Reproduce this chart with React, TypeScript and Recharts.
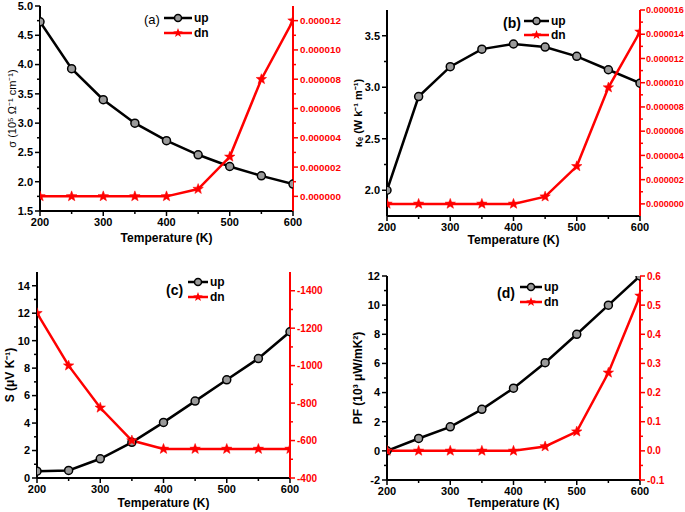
import React from 'react';
import { LineChart, Line, XAxis, YAxis, Legend, Label } from 'recharts';

const temperatures = [200, 250, 300, 350, 400, 450, 500, 550, 600];
const xTickValues = [200, 300, 400, 500, 600];

const sigmaUp = [4.73, 3.93, 3.4, 3.0, 2.7, 2.46, 2.26, 2.1, 1.96];
const sigmaDn = [0, 0, 0, 0, 0, 0.0000005, 0.0000027, 0.000008, 0.000012];
const kappaUp = [2.0, 2.91, 3.2, 3.37, 3.42, 3.39, 3.3, 3.17, 3.04];
const kappaDn = [0, 0, 0, 0, 0, 0.0000006, 0.0000031, 0.0000096, 0.0000142];
const seebeckUp = [0.5, 0.55, 1.4, 2.6, 4.05, 5.6, 7.15, 8.7, 10.65];
const seebeckDn = [-1280, -1000, -775, -600, -555, -555, -555, -555, -555];
const pfUp = [0, 0.85, 1.65, 2.85, 4.3, 6.05, 8.0, 10.0, 12.0];
const pfDn = [0, 0, 0, 0, 0, 0.015, 0.066, 0.268, 0.532];

const sigmaLeftTicks = [1.5, 2.0, 2.5, 3.0, 3.5, 4.0, 4.5, 5.0];
const sigmaRightTicks = [0, 0.000002, 0.000004, 0.000006, 0.000008, 0.00001, 0.000012];
const kappaLeftTicks = [2.0, 2.5, 3.0, 3.5];
const kappaRightTicks = [0, 0.000002, 0.000004, 0.000006, 0.000008, 0.00001, 0.000012, 0.000014, 0.000016];
const seebeckLeftTicks = [0, 2, 4, 6, 8, 10, 12, 14];
const seebeckRightTicks = [-1400, -1200, -1000, -800, -600, -400];
const pfLeftTicks = [-2, 0, 2, 4, 6, 8, 10, 12];
const pfRightTicks = [-0.1, 0, 0.1, 0.2, 0.3, 0.4, 0.5, 0.6];

const FONT = 'Arial, "Liberation Sans", Helvetica, sans-serif';
const RED = '#ff0000';

function withMinors(majors: number[]) {
  const out = [...majors];
  for (let i = 0; i < majors.length - 1; i++) out.push((majors[i] + majors[i + 1]) / 2);
  return out.sort((a, b) => a - b);
}

function starPoints(cx: number, cy: number, R: number, r: number) {
  const pts: string[] = [];
  for (let i = 0; i < 10; i++) {
    const ang = -Math.PI / 2 + (i * Math.PI) / 5;
    const rad = i % 2 === 0 ? R : r;
    pts.push(`${cx + rad * Math.cos(ang)},${cy + rad * Math.sin(ang)}`);
  }
  return pts.join(' ');
}

const CircleDot = (props: any) => {
  const { cx, cy, index } = props;
  if (cx == null || cy == null) return <g key={`c${index}`} />;
  return <circle key={`c${index}`} cx={cx} cy={cy} r={4} fill="#9a9a9a" stroke="#000" strokeWidth={1.5} />;
};

const StarDot = (props: any) => {
  const { cx, cy, index } = props;
  if (cx == null || cy == null) return <g key={`s${index}`} />;
  return <polygon key={`s${index}`} points={starPoints(cx, cy, 5.5, 2.3)} fill={RED} stroke={RED} strokeWidth={0.5} />;
};

const makeTick =
  (side: 'left' | 'right' | 'bottom', majors: number[], fmt: (v: number) => string, color: string, fontSize: number, gap = 7) =>
  (props: any) => {
    const { x, y, payload } = props;
    const v = payload.value as number;
    const isMajor = majors.some((m) => Math.abs(m - v) < 1e-12);
    const len = isMajor ? 5 : 3;
    const textStyle = { fontFamily: FONT, fontWeight: 700, fontSize, fill: color } as any;
    if (side === 'left') {
      return (
        <g>
          <line x1={x} y1={y} x2={x - len} y2={y} stroke={color} strokeWidth={1.5} />
          {isMajor && (
            <text x={x - gap} y={y} dy="0.35em" textAnchor="end" style={textStyle}>
              {fmt(v)}
            </text>
          )}
        </g>
      );
    }
    if (side === 'right') {
      return (
        <g>
          <line x1={x} y1={y} x2={x + len} y2={y} stroke={color} strokeWidth={1.5} />
          {isMajor && (
            <text x={x + gap} y={y} dy="0.35em" textAnchor="start" style={textStyle}>
              {fmt(v)}
            </text>
          )}
        </g>
      );
    }
    return (
      <g>
        <line x1={x} y1={y} x2={x} y2={y + len} stroke={color} strokeWidth={1.5} />
        {isMajor && (
          <text x={x} y={y + 15} textAnchor="middle" style={textStyle}>
            {fmt(v)}
          </text>
        )}
      </g>
    );
  };

type PanelProps = {
  tag: string;
  pos: { left: number; top: number };
  width: number;
  height: number;
  marginTop: number;
  leftWidth: number;
  rightWidth: number;
  xHeight: number;
  up: number[];
  dn: number[];
  leftDomain: [number, number];
  leftTicks: number[];
  leftFmt: (v: number) => string;
  rightDomain: [number, number];
  rightTicks: number[];
  rightFmt: (v: number) => string;
  rightFontSize: number;
  rightGap: number;
  rightReversed?: boolean;
  yTitle: string;
  yTitleBold: boolean;
  yTitleSize: number;
  yTitleX: number;
  xTitleY: number;
  legend: { tagX: number; tagY: number; x1: number; x2: number; upY: number; dnY: number; tagSize: number; tagBold: boolean };
};

function Panel(p: PanelProps) {
  const data = temperatures.map((t, i) => ({ t, up: p.up[i], dn: p.dn[i] }));
  const L = p.legend;
  const mid = (L.x1 + L.x2) / 2;
  const legendContent = () => (
    <svg width={p.width} height={60} style={{ display: 'block', overflow: 'visible' }}>
      <text
        x={L.tagX}
        y={L.tagY}
        dy="0.35em"
        style={{ fontFamily: FONT, fontSize: L.tagSize, fontWeight: L.tagBold ? 700 : 400, fill: '#000' }}
      >
        {p.tag}
      </text>
      <line x1={L.x1} y1={L.upY} x2={L.x2} y2={L.upY} stroke="#000" strokeWidth={2.5} />
      <circle cx={mid} cy={L.upY} r={3.5} fill="#9a9a9a" stroke="#000" strokeWidth={1.5} />
      <text x={L.x2 + 2} y={L.upY} dy="0.35em" style={{ fontFamily: FONT, fontSize: 12, fontWeight: 700, fill: '#000' }}>
        up
      </text>
      <line x1={L.x1} y1={L.dnY} x2={L.x2} y2={L.dnY} stroke={RED} strokeWidth={2.5} />
      <polygon points={starPoints(mid, L.dnY, 5, 2.1)} fill={RED} />
      <text x={L.x2 + 2} y={L.dnY} dy="0.35em" style={{ fontFamily: FONT, fontSize: 12, fontWeight: 700, fill: '#000' }}>
        dn
      </text>
    </svg>
  );

  return (
    <div style={{ position: 'absolute', left: p.pos.left, top: p.pos.top }}>
      <LineChart width={p.width} height={p.height} data={data} margin={{ top: p.marginTop, right: 0, bottom: 0, left: 0 }}>
        <XAxis
          xAxisId="main"
          dataKey="t"
          type="number"
          domain={[200, 600]}
          ticks={withMinors(xTickValues)}
          interval={0}
          height={p.xHeight}
          tickSize={0}
          tickMargin={0}
          tickLine={false}
          axisLine={{ stroke: '#000', strokeWidth: 2 }}
          tick={makeTick('bottom', xTickValues, (v) => String(v), '#000', 11)}
          allowDataOverflow
        >
          <Label
            content={(lp: any) => {
              const vb = lp.viewBox || {};
              return (
                <text
                  x={vb.x + vb.width / 2}
                  y={p.xTitleY}
                  dy="0.35em"
                  textAnchor="middle"
                  style={{ fontFamily: FONT, fontSize: 12, fontWeight: 700, fill: '#000' }}
                >
                  Temperature (K)
                </text>
              );
            }}
          />
        </XAxis>
        <XAxis
          xAxisId="top"
          orientation="top"
          dataKey="t"
          type="number"
          domain={[200, 600]}
          height={0}
          tick={false}
          tickLine={false}
          axisLine={{ stroke: '#000', strokeWidth: 1.5 }}
        />
        <YAxis
          yAxisId="left"
          orientation="left"
          type="number"
          domain={p.leftDomain}
          ticks={withMinors(p.leftTicks)}
          interval={0}
          width={p.leftWidth}
          tickSize={0}
          tickMargin={0}
          tickLine={false}
          axisLine={{ stroke: '#000', strokeWidth: 2 }}
          tick={makeTick('left', p.leftTicks, p.leftFmt, '#000', 11)}
          allowDataOverflow
        >
          <Label
            content={(lp: any) => {
              const vb = lp.viewBox || {};
              const cy = vb.y + vb.height / 2;
              return (
                <text
                  x={p.yTitleX}
                  y={cy}
                  dy="0.35em"
                  textAnchor="middle"
                  transform={`rotate(-90, ${p.yTitleX}, ${cy})`}
                  style={{ fontFamily: FONT, fontSize: p.yTitleSize, fontWeight: p.yTitleBold ? 700 : 400, fill: '#000' }}
                >
                  {p.yTitle}
                </text>
              );
            }}
          />
        </YAxis>
        <YAxis
          yAxisId="right"
          orientation="right"
          type="number"
          domain={p.rightDomain}
          reversed={!!p.rightReversed}
          ticks={withMinors(p.rightTicks)}
          interval={0}
          width={p.rightWidth}
          tickSize={0}
          tickMargin={0}
          tickLine={false}
          axisLine={{ stroke: RED, strokeWidth: 2 }}
          tick={makeTick('right', p.rightTicks, p.rightFmt, RED, p.rightFontSize, p.rightGap)}
          allowDataOverflow
        />
        <Legend
          layout="vertical"
          align="center"
          verticalAlign="middle"
          content={legendContent}
          wrapperStyle={{ position: 'absolute', left: 0, top: 0, width: p.width, height: 60, pointerEvents: 'none' }}
        />
        <Line
          xAxisId="main"
          yAxisId="left"
          dataKey="up"
          type="linear"
          stroke="#000"
          strokeWidth={2.5}
          dot={CircleDot}
          activeDot={false}
          isAnimationActive={false}
        />
        <Line
          xAxisId="main"
          yAxisId="right"
          dataKey="dn"
          type="linear"
          stroke={RED}
          strokeWidth={2.5}
          dot={StarDot}
          activeDot={false}
          isAnimationActive={false}
        />
      </LineChart>
    </div>
  );
}

export default function App() {
  return (
    <div style={{ position: 'absolute', left: 0, top: 0, width: 685, height: 512, background: '#fff', overflow: 'hidden' }}>
      <Panel
        tag="(a)"
        pos={{ left: 0, top: 0 }}
        width={345}
        height={256}
        marginTop={6}
        leftWidth={40}
        rightWidth={52}
        xHeight={45}
        up={sigmaUp}
        dn={sigmaDn}
        leftDomain={[1.5, 5.0]}
        leftTicks={sigmaLeftTicks}
        leftFmt={(v) => v.toFixed(1)}
        rightDomain={[-0.000001, 0.000013]}
        rightTicks={sigmaRightTicks}
        rightFmt={(v) => v.toFixed(6)}
        rightFontSize={9.8}
        rightGap={7}
        yTitle="σ (10⁵ Ω⁻¹ cm⁻¹)"
        yTitleBold={false}
        yTitleSize={11}
        yTitleX={12}
        xTitleY={238}
        legend={{ tagX: 144, tagY: 19, x1: 164, x2: 192, upY: 18, dnY: 33, tagSize: 13, tagBold: false }}
      />
      <Panel
        tag="(b)"
        pos={{ left: 345, top: 0 }}
        width={340}
        height={256}
        marginTop={10}
        leftWidth={42}
        rightWidth={45}
        xHeight={40}
        up={kappaUp}
        dn={kappaDn}
        leftDomain={[1.75, 3.75]}
        leftTicks={kappaLeftTicks}
        leftFmt={(v) => v.toFixed(1)}
        rightDomain={[-0.000001, 0.000016]}
        rightTicks={kappaRightTicks}
        rightFmt={(v) => v.toFixed(6)}
        rightFontSize={9.1}
        rightGap={6}
        yTitle="κₑ (W k⁻¹ m⁻¹)"
        yTitleBold={true}
        yTitleSize={11}
        yTitleX={13}
        xTitleY={240}
        legend={{ tagX: 158, tagY: 23, x1: 179, x2: 204, upY: 21, dnY: 35, tagSize: 14, tagBold: true }}
      />
      <Panel
        tag="(c)"
        pos={{ left: 0, top: 256 }}
        width={345}
        height={256}
        marginTop={16}
        leftWidth={37}
        rightWidth={55}
        xHeight={34}
        up={seebeckUp}
        dn={seebeckDn}
        leftDomain={[0, 15]}
        leftTicks={seebeckLeftTicks}
        leftFmt={(v) => String(v)}
        rightDomain={[-1500, -400]}
        rightTicks={seebeckRightTicks}
        rightFmt={(v) => String(v)}
        rightFontSize={10}
        rightGap={7}
        rightReversed
        yTitle="S (μV K⁻¹)"
        yTitleBold={true}
        yTitleSize={12}
        yTitleX={10}
        xTitleY={247}
        legend={{ tagX: 166, tagY: 34, x1: 188, x2: 208, upY: 26, dnY: 41, tagSize: 14, tagBold: true }}
      />
      <Panel
        tag="(d)"
        pos={{ left: 345, top: 256 }}
        width={340}
        height={256}
        marginTop={20}
        leftWidth={42}
        rightWidth={45}
        xHeight={32}
        up={pfUp}
        dn={pfDn}
        leftDomain={[-2, 12]}
        leftTicks={pfLeftTicks}
        leftFmt={(v) => String(v)}
        rightDomain={[-0.1, 0.6]}
        rightTicks={pfRightTicks}
        rightFmt={(v) => v.toFixed(1)}
        rightFontSize={10}
        rightGap={7}
        yTitle="PF (10³ μW/mK²)"
        yTitleBold={true}
        yTitleSize={12}
        yTitleX={13}
        xTitleY={247}
        legend={{ tagX: 152, tagY: 37, x1: 175, x2: 197, upY: 31, dnY: 46, tagSize: 14, tagBold: true }}
      />
    </div>
  );
}
